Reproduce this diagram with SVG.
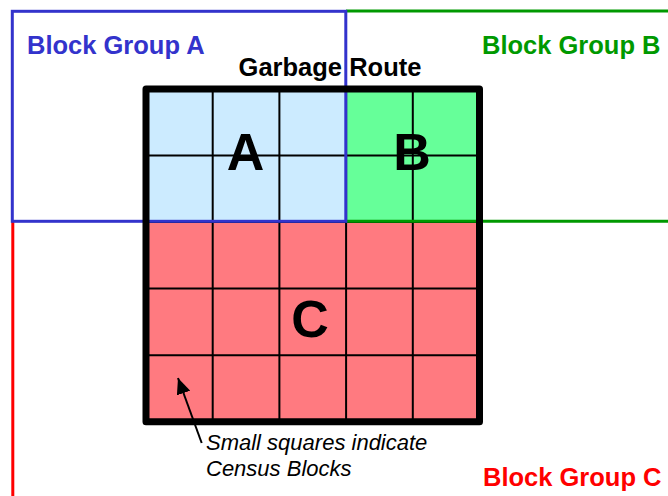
<svg xmlns="http://www.w3.org/2000/svg" width="668" height="496" viewBox="0 0 668 496">
<style>
.lbl{font-family:"Liberation Sans",Arial,sans-serif;font-weight:bold;font-size:25.5px}
.big{font-family:"Liberation Sans",Arial,sans-serif;font-weight:bold;font-size:52px;text-anchor:middle}
.note{font-family:"Liberation Sans",Arial,sans-serif;font-style:italic;font-size:22px;fill:#000}
.grid{stroke:#000;stroke-width:2;fill:none}
</style>
<defs>
<marker id="ah" viewBox="0 0 16 14" refX="16" refY="7" markerWidth="16" markerHeight="14" markerUnits="userSpaceOnUse" orient="auto">
<path d="M0,0 L16,7 L0,14 Z" fill="#000"/>
</marker>
</defs>
<rect width="668" height="496" fill="#fff"/>
<g id="cells">
<rect x="146" y="89" width="200.1" height="133.1" fill="#CCEBFF"/>
<rect x="346.1" y="89" width="133.4" height="133.1" fill="#66FF99"/>
<rect x="146" y="222.1" width="333.5" height="199.6" fill="#FF7A80"/>
<path class="grid" d="M212.7,89V421.7M279.4,89V421.7M346.1,89V421.7M412.8,89V421.7M146,155.5H479.5M146,222.1H479.5M146,288.6H479.5M146,355.2H479.5"/>
</g>
<g id="block-group-c">
<path d="M12.8,221.3V496" fill="none" stroke="#FF0000" stroke-width="3"/>
<text class="lbl" x="483" y="486" fill="#FF0000">Block Group C</text>
</g>
<g id="block-group-b">
<path d="M346,11H668M346,221.3H668" fill="none" stroke="#009900" stroke-width="3"/>
<text class="lbl" x="482" y="54" fill="#009900">Block Group B</text>
</g>
<g id="block-group-a">
<rect x="12.3" y="11.3" width="333.5" height="210" fill="none" stroke="#3333CC" stroke-width="3"/>
<text class="lbl" x="27" y="54" fill="#3333CC">Block Group A</text>
</g>
<g id="garbage-route">
<rect x="146" y="89" width="333.5" height="332.7" fill="none" stroke="#000" stroke-width="7" stroke-linejoin="round"/>
<text class="lbl" x="330" y="76" fill="#000" text-anchor="middle">Garbage Route</text>
</g>
<g id="label-a"><text class="big" x="245.5" y="170">A</text></g>
<g id="label-b"><text class="big" x="412" y="169.5">B</text></g>
<g id="label-c"><text class="big" x="310" y="336.5">C</text></g>
<g id="note">
<text class="note" x="206" y="450">Small squares indicate</text>
<text class="note" x="206" y="476">Census Blocks</text>
</g>
<g id="connectors">
<line x1="201.7" y1="443" x2="178" y2="378" stroke="#000" stroke-width="2" marker-end="url(#ah)"/>
</g>
</svg>
